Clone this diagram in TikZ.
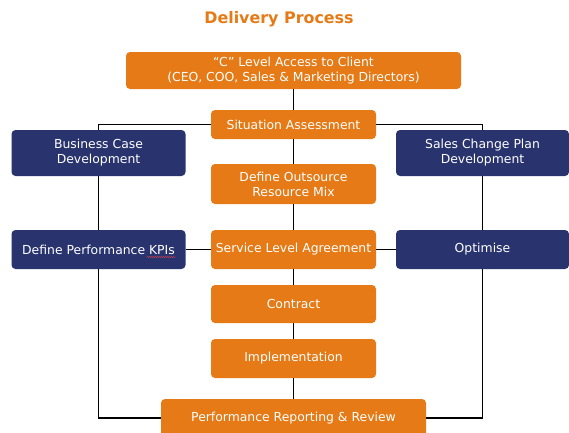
\documentclass[tikz,border=0pt]{standalone}
\usepackage{fontspec}
\setmainfont{DejaVu Sans}
\usetikzlibrary{decorations.pathmorphing}
\definecolor{procorange}{RGB}{229,122,22}
\definecolor{procnavy}{RGB}{41,52,110}
\begin{document}
\begin{tikzpicture}[x=1pt,y=-1pt,
  box/.style={rounded corners=4pt, text=white, align=center, inner sep=0pt,
    font=\fontsize{12.4}{15}\selectfont, minimum height=#1},
  box/.default=39pt,
  obox/.style={box=#1, fill=procorange},
  obox/.default=39pt,
  nbox/.style={box=#1, fill=procnavy},
  nbox/.default=39pt,
  link/.style={draw=black, line width=1.3pt}]
\useasboundingbox (0,0) rectangle (569,432);
\clip (0,0) rectangle (569,432);

% heading
\node[text=procorange, font=\fontsize{15.9}{18}\selectfont\bfseries] (title) at (279,19) {Delivery Process};

% central process column
\node[obox=37pt, minimum width=335pt] (top) at (293.5,70.5) {“C” Level Access to Client\\(CEO, COO, Sales \& Marketing Directors)};
\node[obox=29pt, minimum width=165pt] (sit) at (293.5,124.5) {Situation Assessment};
\node[obox=40pt, minimum width=165pt] (dor) at (293.5,184) {Define Outsource\\Resource Mix};
\node[obox, minimum width=165pt] (sla) at (293.5,249.5) {Service Level Agreement};
\node[obox=38pt, minimum width=165pt] (con) at (293.5,304) {Contract};
\node[obox, minimum width=165pt] (imp) at (293.5,358.5) {Implementation};
\node[obox=38pt, minimum width=265pt] (prr) at (293.5,418) {Performance Reporting \& Review};

% side columns
\node[nbox=46pt, minimum width=174pt] (bcd) at (98.5,153) {Business Case\\Development};
\node[nbox, minimum width=174pt] (kpi) at (98.5,249.5) {Define Performance KPIs};
\node[nbox=46pt, minimum width=173pt] (scp) at (482.5,153) {Sales Change Plan\\Development};
\node[nbox, minimum width=173pt] (opt) at (482.5,249.5) {Optimise};

% spell-check squiggle under "KPIs"
\draw[red!75, line width=0.35pt, decorate,
  decoration={snake, amplitude=0.5pt, segment length=2pt}]
  ([xshift=-39pt,yshift=-7.5pt]kpi.east) -- ([xshift=-10pt,yshift=-7.5pt]kpi.east);

% connectors
\draw[link] (top) -- (sit);
\draw[link] (sit) -- (dor);
\draw[link] (dor) -- (sla);
\draw[link] (sla) -- (con);
\draw[link] (con) -- (imp);
\draw[link] (imp) -- (prr);
\draw[link] (sit.west) -| (bcd.north);
\draw[link] (sit.east) -| (scp.north);
\draw[link] (bcd) -- (kpi);
\draw[link] (scp) -- (opt);
\draw[link] (kpi) -- (sla);
\draw[link] (sla) -- (opt);
\draw[link] (kpi.south) |- (prr.west);
\draw[link] (opt.south) |- (prr.east);
\end{tikzpicture}
\end{document}
